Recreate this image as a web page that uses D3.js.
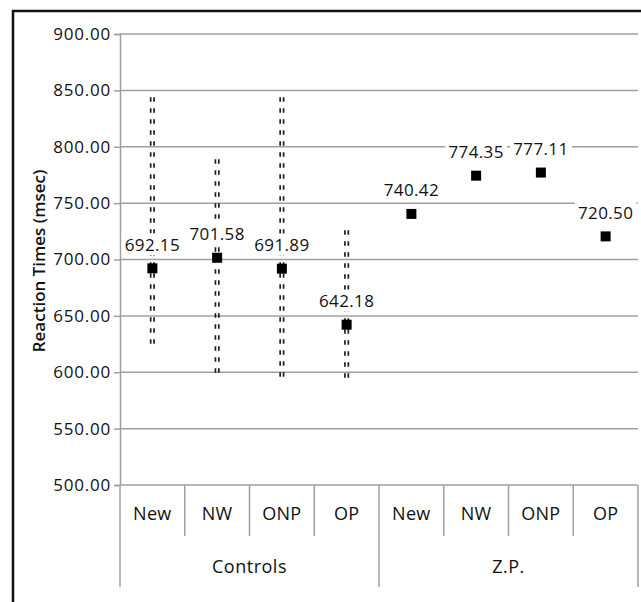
<!DOCTYPE html>
<html>
<head>
<meta charset="utf-8">
<script src="https://cdn.jsdelivr.net/npm/d3@7"></script>
<style>
  html, body { margin: 0; padding: 0; background: #fff; }
  svg { display: block; }
  text { font-family: "Open Sans", "Noto Sans", sans-serif; fill: #111; }
</style>
</head>
<body>
<svg id="chart" width="641" height="602"></svg>
<script>
// ---- data ----
const groups = ["Controls", "Z.P."];
const conditions = ["New", "NW", "ONP", "OP"];
const controlsMeans = [692.15, 701.58, 691.89, 642.18];
const zpMeans = [740.42, 774.35, 777.11, 720.50];
const controlsUpper = [844, 789, 844, 726];
const controlsLower = [624, 599, 591, 593];
const yTicks = [500, 550, 600, 650, 700, 750, 800, 850, 900];
const yTitle = "Reaction Times (msec)";

// build rows
const rows = [];
groups.forEach((g, gi) => {
  conditions.forEach((c, ci) => {
    rows.push({
      key: g + "|" + c, group: g, cond: c,
      mean: gi === 0 ? controlsMeans[ci] : zpMeans[ci],
      upper: gi === 0 ? controlsUpper[ci] : null,
      lower: gi === 0 ? controlsLower[ci] : null
    });
  });
});

const svg = d3.select("#chart");
const pLeft = 120, pRight = 638, pTop = 34, pBottom = 485;

const y = d3.scaleLinear().domain([500, 900]).range([pBottom, pTop]);
const x = d3.scaleBand().domain(rows.map(d => d.key)).range([pLeft, pRight]).padding(0);

// outer frame
svg.append("rect").attr("x", 13).attr("y", 11).attr("width", 700).attr("height", 700)
  .attr("fill", "none").attr("stroke", "#111").attr("stroke-width", 2.5);

// gridlines
const gridColor = "#a0a0a0";
svg.append("g").selectAll("line").data(yTicks).join("line")
  .attr("x1", pLeft).attr("x2", pRight)
  .attr("y1", d => y(d)).attr("y2", d => y(d))
  .attr("stroke", gridColor).attr("stroke-width", 1.5);

// y axis
const yAxis = d3.axisLeft(y).tickValues(yTicks).tickSize(6).tickPadding(3)
  .tickFormat(d3.format(".2f"));
const yg = svg.append("g").attr("transform", `translate(${pLeft},0)`).call(yAxis);
yg.select(".domain").attr("stroke", gridColor).attr("stroke-width", 1.5);
yg.selectAll(".tick line").attr("stroke", gridColor).attr("stroke-width", 1.5);
yg.selectAll(".tick text").attr("font-size", 17).attr("letter-spacing", 0.8)
  .attr("fill", "#111").style("font-family", '"Open Sans", sans-serif');

// y title
svg.append("text")
  .attr("transform", "translate(38,261) rotate(-90)")
  .attr("text-anchor", "middle").attr("dominant-baseline", "central")
  .attr("font-size", 17).attr("font-weight", 600).attr("letter-spacing", 0)
  .text(yTitle);

// category axis lines
const catBottom = 536, groupBottom = 587;
const boundaries = rows.map(d => x(d.key)).concat([pRight]);
svg.append("g").selectAll("line").data(boundaries).join("line")
  .attr("x1", d => d).attr("x2", d => d)
  .attr("y1", pBottom)
  .attr("y2", (d, i) => (i % conditions.length === 0) ? groupBottom : catBottom)
  .attr("stroke", gridColor).attr("stroke-width", 1.5);

// category labels
svg.append("g").selectAll("text").data(rows).join("text")
  .attr("x", d => x(d.key) + x.bandwidth() / 2)
  .attr("y", 513)
  .attr("text-anchor", "middle").attr("dominant-baseline", "central")
  .attr("font-size", 18).attr("letter-spacing", 0.3)
  .text(d => d.cond);

// group labels
svg.append("g").selectAll("text").data(groups).join("text")
  .attr("x", (g) => {
    const a = x(g + "|" + conditions[0]);
    const b = x(g + "|" + conditions[conditions.length - 1]) + x.bandwidth();
    return (a + b) / 2;
  })
  .attr("y", 566)
  .attr("text-anchor", "middle").attr("dominant-baseline", "central")
  .attr("font-size", 18).attr("letter-spacing", 0.5)
  .text(d => d);

// error bars (double dashed lines)
const eb = rows.filter(d => d.upper != null);
[-1.7, 1.7].forEach(off => {
  svg.append("g").selectAll("line").data(eb).join("line")
    .attr("x1", d => x(d.key) + x.bandwidth() / 2 + off)
    .attr("x2", d => x(d.key) + x.bandwidth() / 2 + off)
    .attr("y1", d => y(d.upper)).attr("y2", d => y(d.lower))
    .attr("stroke", "#1e1e1e").attr("stroke-width", 1.7)
    .attr("stroke-dasharray", "4.5,6.5");
});

// data labels with white background
const lg = svg.append("g");
const labels = lg.selectAll("g").data(rows).join("g")
  .attr("transform", d => `translate(${x(d.key) + x.bandwidth() / 2},${y(d.mean) - 24})`);
const bgs = labels.append("rect").attr("fill", "#fff");
const lt = labels.append("text")
  .attr("text-anchor", "middle").attr("dominant-baseline", "central")
  .attr("font-size", 17).attr("letter-spacing", 0.4)
  .text(d => d3.format(".2f")(d.mean));
lt.each(function(d, i) {
  const bb = this.getBBox();
  d3.select(bgs.nodes()[i])
    .attr("x", bb.x - 3).attr("y", -11).attr("width", bb.width + 6).attr("height", 22);
});

// markers
const ms = 10;
svg.append("g").selectAll("rect").data(rows).join("rect")
  .attr("x", d => x(d.key) + x.bandwidth() / 2 - ms / 2)
  .attr("y", d => y(d.mean) - ms / 2)
  .attr("width", ms).attr("height", ms)
  .attr("fill", "#000");
</script>
</body>
</html>
